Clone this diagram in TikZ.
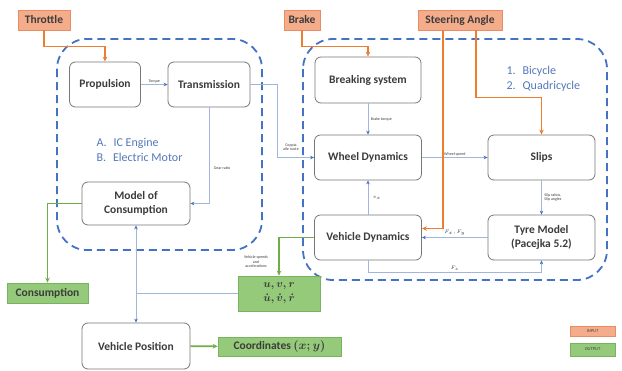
\documentclass[tikz,border=0pt]{standalone}
\usepackage{fontspec}
\setmainfont{Carlito}
\usetikzlibrary{arrows.meta,calc}
\definecolor{boxline}{RGB}{120,120,120}
\definecolor{txt}{RGB}{60,60,60}
\definecolor{inpfill}{RGB}{244,172,138}
\definecolor{inpline}{RGB}{232,140,100}
\definecolor{outfill}{RGB}{148,202,122}
\definecolor{outline}{RGB}{120,180,95}
\definecolor{orangeln}{RGB}{237,125,49}
\definecolor{greenln}{RGB}{112,173,71}
\definecolor{dashblue}{RGB}{68,114,196}
\definecolor{connln}{RGB}{160,182,218}
\definecolor{tipblue}{RGB}{68,114,196}
\definecolor{labblue}{RGB}{84,120,185}
\tikzset{
  blk/.style={draw=boxline, line width=0.8pt, rounded corners=6pt, fill=white, align=center,
    text=txt, font=\fontsize{11.5}{14}\selectfont\bfseries, inner sep=2pt},
  inp/.style={draw=inpline, fill=inpfill, line width=0.6pt, text=txt, inner sep=1pt,
    font=\fontsize{11.5}{14}\selectfont\bfseries},
  outp/.style={draw=outline, fill=outfill, line width=0.6pt, text=txt, inner sep=1pt,
    font=\fontsize{11.5}{14}\selectfont\bfseries, align=center},
  container/.style={draw=dashblue, line width=1.8pt, dash pattern=on 8pt off 5pt, rounded corners=30pt},
  conn/.style={draw=connln, line width=0.7pt, -{Stealth[length=4pt,width=3.5pt,color=tipblue]}},
  connplain/.style={draw=connln, line width=0.7pt},
  oconn/.style={draw=orangeln, line width=1.6pt, -{Stealth[length=5pt,width=4.5pt]}},
  gconn/.style={draw=greenln, line width=1.6pt, -{Stealth[length=5pt,width=4.5pt]}},
  tiny/.style={font=\fontsize{4}{4.5}\selectfont, text=txt, align=center, inner sep=0.5pt},
  legend/.style={font=\fontsize{4.5}{5}\selectfont\mdseries\itshape, text=txt, inner sep=0pt}
}
\begin{document}
\begin{tikzpicture}[x=1pt,y=-1pt]
\useasboundingbox[fill=white] (0,0) rectangle (622,370);
% containers
\draw[container] (57,39) rectangle (262,250);
\draw[container] (303,39) rectangle (607,280);
% blocks
\node[blk, minimum width=71pt, minimum height=45pt] (prop) at (105,84.5) {Propulsion};
\node[blk, minimum width=82pt, minimum height=45pt] (trans) at (209,84.5) {Transmission};
\node[blk, minimum width=108pt, minimum height=43pt] (moc) at (136,203.5) {Model of\\Consumption};
\node[blk, minimum width=108pt, minimum height=46pt] (vp) at (136,346) {Vehicle Position};
\node[blk, minimum width=106pt, minimum height=46pt] (bs) at (368,80) {Breaking system};
\node[blk, minimum width=107pt, minimum height=45pt] (wd) at (368,157.5) {Wheel Dynamics};
\node[blk, minimum width=107pt, minimum height=45pt] (slips) at (541.5,157.5) {Slips};
\node[blk, minimum width=107pt, minimum height=45pt] (vd) at (368,237.5) {Vehicle Dynamics};
\node[blk, minimum width=107pt, minimum height=45pt] (tyre) at (541.5,237.5) {Tyre Model\\(Pacejka 5.2)};
% inputs
\node[inp, minimum width=52pt, minimum height=20pt] (thr) at (44,20) {Throttle};
\node[inp, minimum width=36pt, minimum height=20pt] (brake) at (302,20) {Brake};
\node[inp, minimum width=84pt, minimum height=20pt] (steer) at (460,20) {Steering Angle};
% outputs
\node[outp, minimum width=81pt, minimum height=20pt] (cons) at (47.5,293) {Consumption};
\node[outp, minimum width=82pt, minimum height=35pt, font=\fontsize{10.5}{12}\selectfont\boldmath] (uvr) at (279,293.5) {$u, v, r$\\[2pt]$\dot u, \dot v, \dot r$};
\node[outp, minimum width=123pt, minimum height=19pt] (coord) at (279.5,346.5) {Coordinates {\boldmath$(x; y)$}};
% legend
\node[inp, minimum width=45pt, minimum height=10pt, legend] (lin) at (592.5,331.5) {INPUT};
\node[outp, minimum width=45pt, minimum height=13pt, legend] (lout) at (592.5,349.5) {OUTPUT};
% blue texts
\node[anchor=west, align=left, text=labblue, font=\fontsize{12}{15}\selectfont] (ab) at (93,150)
  {A.\hspace{7pt}IC Engine\\B.\hspace{7pt}Electric Motor};
\node[anchor=west, align=left, text=labblue, font=\fontsize{12}{14.5}\selectfont] (bq) at (503,79)
  {1.\hspace{7pt}Bicycle\\2.\hspace{7pt}Quadricycle};
% connectors
\draw[conn] (prop) -- node[tiny, above=1pt] {Torque} (trans);
\draw[conn] (trans.east) -- ++(27,0) coordinate (c1) |- (wd.west);
\node[tiny] (lcop) at (291,147) {Coppia\\alle ruote};
\draw[conn] (trans.south) |- (moc.east);
\node[tiny] (lgear) at (222,168) {Gear ratio};
\draw[conn] (bs) -- node[tiny, right=2pt] {Brake torque} (wd);
\draw[conn] (wd) -- node[tiny, above=1pt] {Wheel speed} (slips);
\draw[conn] (slips) -- node[tiny, right=2pt] {Slip ratios,\\Slip angles} (tyre);
\draw[conn] (tyre) -- node[tiny, above=1pt] {$F_x, F_y$} (vd);
\draw[conn] (vd) -- node[tiny, right=4pt] {$v_x$} (wd);
\draw[conn] (vd.south) -- ++(0,12) -| node[tiny, pos=0.25, above=1pt] {$F_z$} (tyre.south);
\coordinate (j) at (moc.south |- uvr.west);
\draw[connplain] (uvr.west) -- (j);
\draw[conn] (j) -- (moc.south);
\draw[conn] (j) -- (vp.north);
% orange
\draw[oconn] (thr.south) -- ++(0,16) -| (prop.north);
\draw[oconn] (brake.south) -- ++(0,16) -| (bs.north);
\draw[oconn] ([xshift=-17pt]steer.south) |- ([yshift=9pt]vd.east);
\draw[oconn] ([xshift=16pt]steer.south) -- ++(0,67) -| (slips.north);
% green
\draw[gconn] (moc.west) -| (cons.north);
\draw[gconn] (vd.west) -| (uvr.north);
\node[tiny] (lvs) at (256,262) {Vehicle speeds\\and\\accelerations};
\draw[gconn] (vp) -- (coord);
\end{tikzpicture}
\end{document}
